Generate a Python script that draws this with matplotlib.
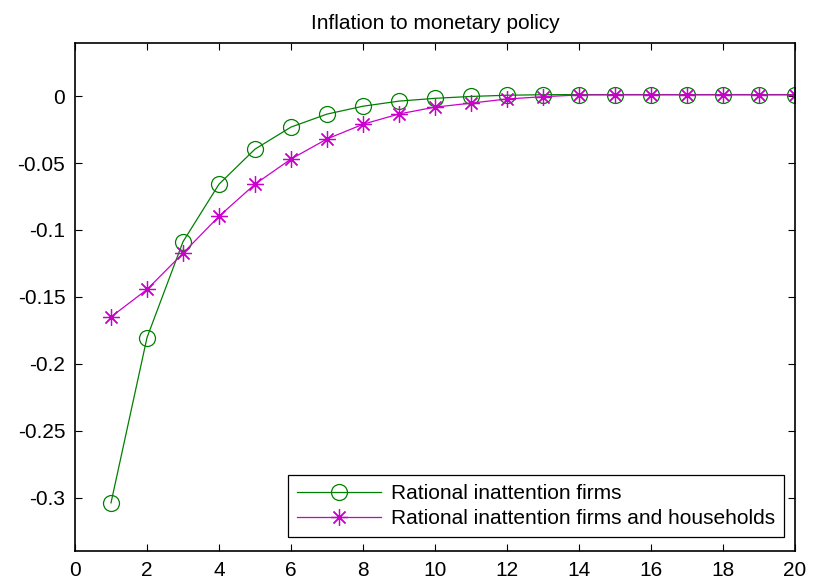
import numpy as np
import matplotlib.pyplot as plt

plt.rcParams['font.family'] = ['Liberation Sans', 'DejaVu Sans']

# impulse responses, periods 1..20
periods = np.arange(1, 21)
ri_firms = [-0.304, -0.1805, -0.1088, -0.0658, -0.0396, -0.0231, -0.0134, -0.0075,
            -0.0037, -0.0016, -0.0002, 0.0007, 0.0011, 0.0012, 0.0012, 0.0012,
            0.0012, 0.0012, 0.0012, 0.0012]
ri_firms_households = [-0.165, -0.1445, -0.1174, -0.0898, -0.0658, -0.047, -0.032, -0.021,
                       -0.0133, -0.0082, -0.0052, -0.0021, -0.0004, 0.0009, 0.001, 0.001,
                       0.001, 0.001, 0.001, 0.001]

fig = plt.figure(figsize=(8.18, 5.87), dpi=100)
ax = fig.add_axes([0.0917, 0.0613, 0.880, 0.866])

ax.plot(periods, ri_firms, color='#008000', lw=0.9, marker='o', ms=11.5,
        mfc='none', mec='#008000', mew=0.9, label='Rational inattention firms')
ax.plot(periods, ri_firms_households, color='#cc00cc', lw=0.9, marker=(8, 2, 0), ms=12,
        mec='#cc00cc', mew=0.9, label='Rational inattention firms and households')

ax.set_xlim(0, 20)
ax.set_ylim(-0.34, 0.04)
ax.set_xticks(np.arange(0, 21, 2))
ax.set_yticks([-0.3, -0.25, -0.2, -0.15, -0.1, -0.05, 0])
ax.set_yticklabels(['-0.3', '-0.25', '-0.2', '-0.15', '-0.1', '-0.05', '0'])
ax.tick_params(direction='in', length=5, width=0.8, labelsize=15,
               top=True, right=True, pad=7)
for s in ax.spines.values():
    s.set_linewidth(1.2)

ax.set_title('Inflation to monetary policy', fontsize=15, pad=10)

leg = ax.legend(loc='lower right', bbox_to_anchor=(0.9847, 0.0277), fontsize=15,
                fancybox=False, framealpha=1, edgecolor='black',
                borderpad=0.42, labelspacing=0.3, handlelength=4.0,
                handletextpad=0.5, borderaxespad=0)
leg.get_frame().set_linewidth(0.9)

fig.savefig('out.png', dpi=100)
